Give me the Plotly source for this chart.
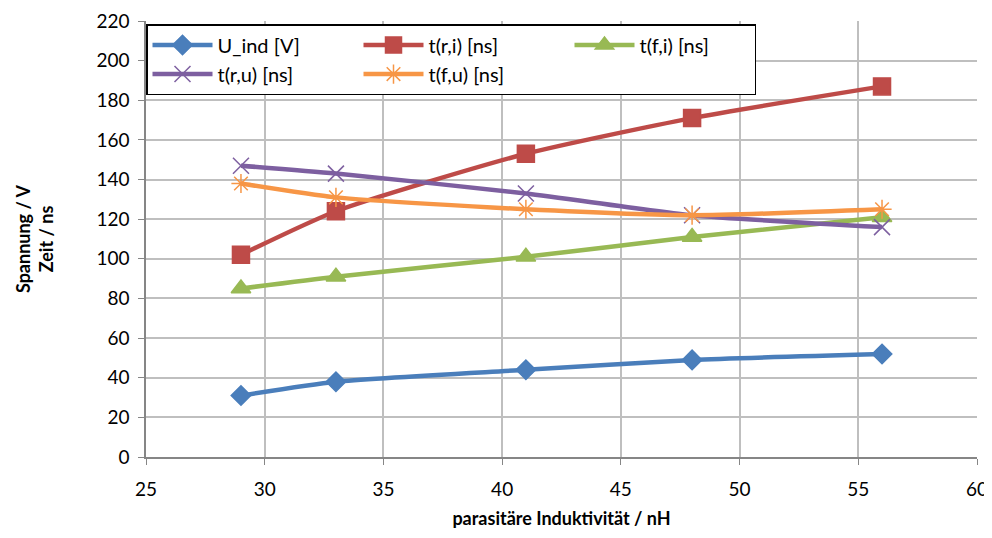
import plotly.graph_objects as go

x_nH = [29, 33, 41, 48, 56]
u_ind = [31, 38, 44, 49, 52]
t_ri = [102, 124, 153, 171, 187]
t_fi = [85, 91, 101, 111, 121]
t_ru = [147, 143, 133, 122, 116]
t_fu = [138, 131, 125, 122, 125]

series = [
    ("U_ind [V]", u_ind, "#4a7ebb", "diamond", 15),
    ("t(r,i) [ns]", t_ri, "#be4b48", "square", 17),
    ("t(f,i) [ns]", t_fi, "#98b954", "triangle-up", 17),
    ("t(r,u) [ns]", t_ru, "#7d5fa0", "x-thin-open", 16),
    ("t(f,u) [ns]", t_fu, "#f79646", "asterisk-open", 16),
]

fig = go.Figure()
for name, ys, col, sym, sz in series:
    fig.add_trace(go.Scatter(
        x=x_nH, y=ys, name=name, mode="lines+markers",
        line=dict(color=col, width=4.5, shape="spline", smoothing=0.6),
        marker=dict(symbol=sym, size=sz, color=col, line=dict(color=col, width=1.5)),
        legendwidth=110 if name == "t(f,i) [ns]" else None,
    ))

fig.update_layout(
    width=992, height=538,
    margin=dict(l=138, r=23, t=13, b=89, autoexpand=False),
    paper_bgcolor="white", plot_bgcolor="white",
    font=dict(family="Lato, 'Open Sans', sans-serif", size=19, color="black"),
    legend=dict(
        orientation="h", x=0, y=0.993, xanchor="left", yanchor="top",
        bgcolor="white", bordercolor="black", borderwidth=1.5,
        entrywidth=136, entrywidthmode="pixels",
        font=dict(size=20), itemwidth=60, tracegroupgap=0,
    ),
    xaxis=dict(
        range=[25, 60], dtick=5, showgrid=True, gridcolor="#bfbfbf", gridwidth=1.5,
        ticks="outside", ticklen=6, tickcolor="#868686", ticklabelstandoff=8,
        showline=True, linecolor="#868686", linewidth=1.5,
        title=dict(text="<b>parasitäre Induktivität / nH</b>", font=dict(size=18), standoff=14),
        zeroline=False, automargin=False,
    ),
    yaxis=dict(
        range=[0, 220], dtick=20, showgrid=True, gridcolor="#bfbfbf", gridwidth=1.5,
        ticks="outside", ticklen=6, tickcolor="#868686", ticklabelstandoff=5,
        showline=True, linecolor="#868686", linewidth=1.5,
        title=dict(text="<b>Spannung / V<br>Zeit / ns</b>", font=dict(size=18), standoff=38),
        zeroline=False, automargin=False,
    ),
)

fig.write_html("out.html")
